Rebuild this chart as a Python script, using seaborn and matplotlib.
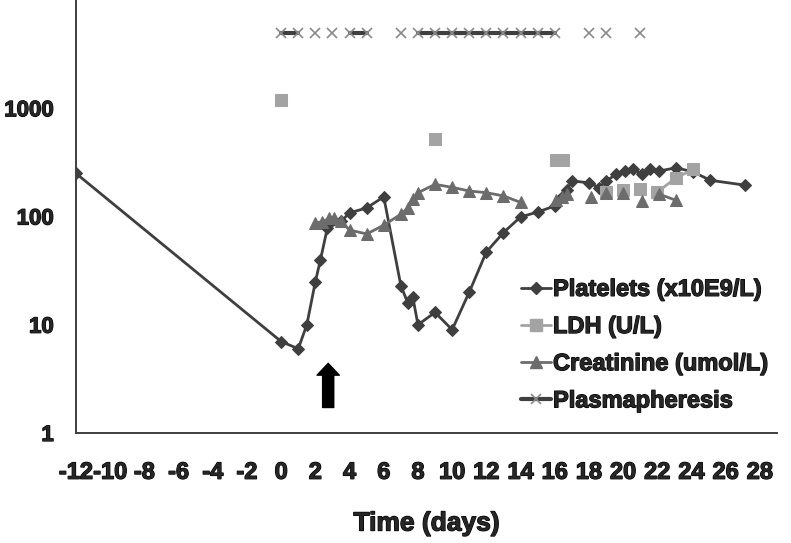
import matplotlib
matplotlib.use("Agg")
import matplotlib.pyplot as plt
import matplotlib.patheffects as pe
from matplotlib.lines import Line2D
from matplotlib.ticker import NullLocator
import seaborn as sns
import pandas as pd

# === Data ===
# each inner list is one connected run of points; gaps break the line
PLT_DAYS = [[-12, 0, 1, 1.5, 2, 2.3, 2.7, 3.5, 4, 5, 6, 7, 7.4, 7.7, 8, 9, 10,
             11, 12, 13, 14, 15, 16, 16.4, 16.7, 17, 18, 18.6, 19, 19.6, 20.1,
             20.6, 21.1, 21.6, 22.1, 23.1, 24.1, 25.1, 27.1]]
PLT_VALS = [[250, 7, 6, 10, 25, 40, 78, 90, 108, 120, 152, 23, 16, 18, 10, 13, 9,
             20, 47, 71, 99, 110, 125, 150, 175, 213, 205, 185, 213, 245, 265,
             272, 245, 272, 263, 282, 258, 216, 195]]

LDH_DAYS = [[0], [9], [16.1, 16.5], [19], [20], [21], [22, 23.1, 24.1]]
LDH_VALS = [[1200], [520], [333, 333], [168], [174], [180], [168, 228, 272]]

CREA_DAYS = [[2, 2.4, 2.8, 3.1, 3.5, 4, 5, 6, 7, 7.4, 7.7, 8, 9, 10, 11, 12, 13, 14],
             [16.1, 16.4, 16.7], [18.1], [19], [20], [21.1], [22.1, 23.1]]
CREA_VALS = [[88, 89, 96, 97, 90, 75, 69, 83, 105, 120, 144, 166, 198, 186, 172, 166, 155, 135],
             [141, 150, 160], [150], [165], [165], [139], [161, 141]]

PLEX_DAYS = [[0, 1], [2], [3], [4, 5], [7], [8, 9, 10, 11, 12, 13, 14, 15, 16],
             [18], [19], [21]]
PLEX_LEVEL = 5000

LABELS = ["Platelets (x10E9/L)", "LDH (U/L)", "Creatinine (umol/L)", "Plasmapheresis"]

XTICKS = list(range(-12, 29, 2))
XTICK_LABELS = [str(t) for t in XTICKS]
YTICKS = [1, 10, 100, 1000]
YTICK_LABELS = ["1", "10", "100", "1000"]

# arrow marking the start of treatment
ARROW_DAY = 2.75
ARROW_FROM = 1.72
ARROW_TO = 4.4


def to_frame(days, vals):
    rows = []
    for seg, (d, v) in enumerate(zip(days, vals)):
        for x, y in zip(d, v):
            rows.append({"day": x, "value": y, "seg": seg})
    return pd.DataFrame(rows)


plex_vals = [[PLEX_LEVEL] * len(d) for d in PLEX_DAYS]

sns.set_style("white")
plt.rcParams["font.family"] = ["Liberation Sans", "DejaVu Sans"]
plt.rcParams["font.weight"] = "bold"

DARK = "#3f3f3f"
MID = "#6c6c6c"
LIGHT = "#a3a3a3"
XGRAY = "#8a8a8a"
HEAVY = [pe.withStroke(linewidth=0.9, foreground="black")]

fig = plt.figure(figsize=(7.91, 5.43), dpi=100)
ax = fig.add_axes([76 / 791, 110 / 543, 701 / 791, 433 / 543])
ax.set_yscale("log")

styles = [
    (to_frame(PLT_DAYS, PLT_VALS), dict(color=DARK, marker="D", markersize=6.3,
                                        markeredgecolor=DARK, markerfacecolor=DARK,
                                        linewidth=2.0)),
    (to_frame(LDH_DAYS, LDH_VALS), dict(color=LIGHT, marker="s", markersize=8,
                                        markeredgecolor=LIGHT, markerfacecolor=LIGHT,
                                        linewidth=2.0)),
    (to_frame(CREA_DAYS, CREA_VALS), dict(color=MID, marker="^", markersize=8.5,
                                          markeredgecolor=MID, markerfacecolor=MID,
                                          linewidth=2.0)),
    (to_frame(PLEX_DAYS, plex_vals), dict(color=DARK, marker="x", markersize=7.5,
                                          markeredgecolor=XGRAY, markeredgewidth=1.2,
                                          linewidth=3.0)),
]

for df, kw in styles:
    sns.lineplot(data=df, x="day", y="value", units="seg", estimator=None,
                 sort=False, legend=False, ax=ax, **kw)

ax.annotate("", xy=(ARROW_DAY, ARROW_TO), xytext=(ARROW_DAY, ARROW_FROM),
            arrowprops=dict(facecolor="black", edgecolor="black",
                            width=8, headwidth=16, headlength=8.5))

# === Axes styling ===
ax.set_xlim(-12, 29)
ax.set_ylim(1, 10000)
ax.set_xticks(XTICKS)
ax.set_xticklabels(XTICK_LABELS)
ax.set_xticks(list(range(-11, 30, 2)), minor=True)
ax.set_yticks(YTICKS)
ax.set_yticklabels(YTICK_LABELS)
ax.yaxis.set_minor_locator(NullLocator())

for side in ["top", "right"]:
    ax.spines[side].set_visible(False)
for side in ["left", "bottom"]:
    ax.spines[side].set_color(DARK)
    ax.spines[side].set_linewidth(1.4)

ax.tick_params(axis="x", which="both", direction="out", length=5, width=1.2,
               color=DARK, labelsize=17, pad=15)
ax.tick_params(axis="y", which="major", direction="out", length=6, width=1.2,
               color=DARK, labelsize=16, pad=10)
for lab in ax.get_xticklabels() + ax.get_yticklabels():
    lab.set_fontweight("bold")
    lab.set_path_effects(HEAVY)

xl = ax.set_xlabel("Time (days)", fontsize=19, fontweight="bold", labelpad=20)
xl.set_path_effects(HEAVY)
ax.set_ylabel("")

handles = []
for df, kw in styles:
    handles.append(Line2D([], [], **kw))
leg = ax.legend(handles, LABELS, loc="center left", bbox_to_anchor=(0.635, 0.203),
                frameon=False, handlelength=1.25, handletextpad=0.1,
                labelspacing=0.6, borderpad=0, borderaxespad=0,
                prop={"weight": "bold", "size": 17})
for t in leg.get_texts():
    t.set_path_effects(HEAVY)

fig.savefig("out.png", dpi=100)
